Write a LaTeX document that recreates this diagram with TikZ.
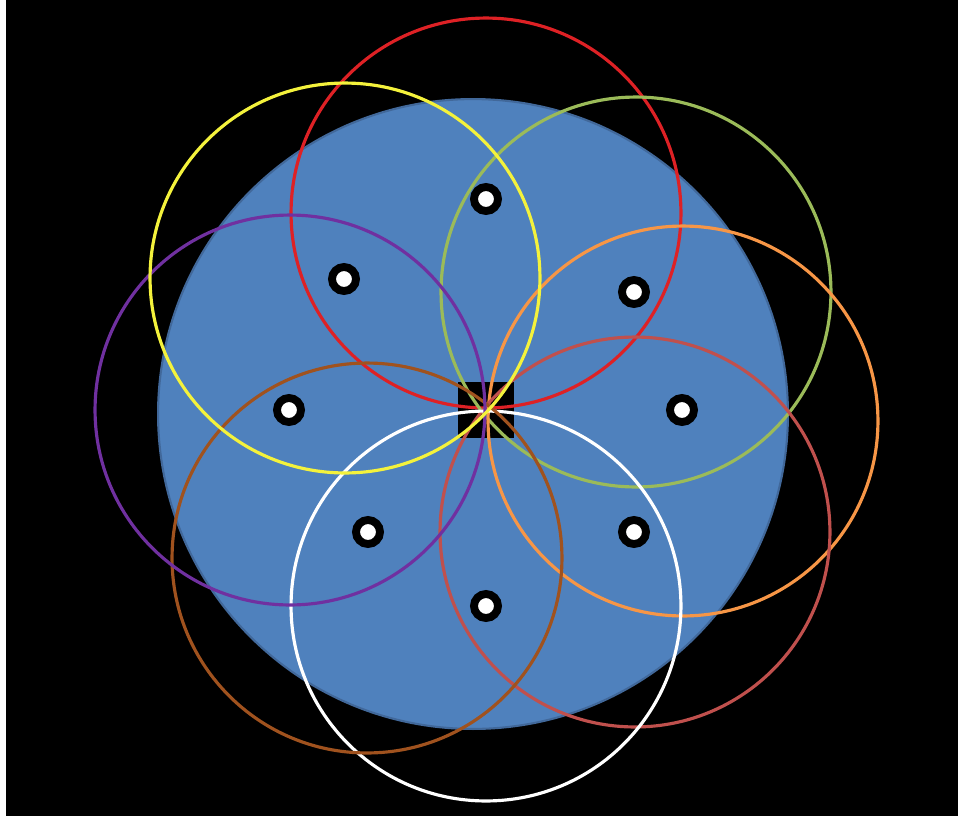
\documentclass[tikz,border=0pt]{standalone}
\usepackage{xcolor}
\usepackage{tikz}
\usetikzlibrary{positioning}

\definecolor{hubblue}{HTML}{4F81BD}
\definecolor{hubedge}{HTML}{41689A}
\definecolor{ringred}{HTML}{DE2125}
\definecolor{ringyellow}{HTML}{F4F23C}
\definecolor{ringgreen}{HTML}{9BBB59}
\definecolor{ringorange}{HTML}{F79646}
\definecolor{ringrose}{HTML}{C0504D}
\definecolor{ringbrown}{HTML}{A0521E}
\definecolor{ringpurple}{HTML}{7030A0}

\begin{document}
\begin{tikzpicture}[
    x=0.02cm, y=-0.02cm,
    ring/.style={draw=#1, circle, line width=1.8pt, minimum size=7.8cm, inner sep=0pt},
    sensor/.style={circle, fill=white, draw=black, line width=4.5pt, minimum size=0.48cm, inner sep=0pt},
    hub/.style={fill=black, minimum size=1.12cm, inner sep=0pt}
]
% Background
\fill[black] (0,0) rectangle (958,816);
\fill[white] (0,0) rectangle (6,816);
\useasboundingbox (0,0) rectangle (958,816);

% Coverage area
\node[circle, fill=hubblue, draw=hubedge, line width=1.2pt, minimum size=12.6cm, inner sep=0pt] (area) at (473,414) {};
\node[hub] (base) at (486,410) {};

% Sensing ranges
\node[ring=ringred] (r-red) at (486,213) {};
\node[ring=ringgreen] (r-green) at (636,292) {};
\node[ring=ringorange] (r-orange) at (683,421) {};
\node[ring=ringrose] (r-rose) at (635,532) {};
\node[ring=white] (r-white) at (486,606) {};
\node[ring=ringbrown] (r-brown) at (367,558) {};
\node[ring=ringpurple] (r-purple) at (290,410) {};
\node[ring=ringyellow] (r-yellow) at (345,278) {};

% Sensor nodes
\node[sensor] (s1) at (486,199) {};
\node[sensor] (s2) at (634,292) {};
\node[sensor] (s3) at (682,410) {};
\node[sensor] (s4) at (634,532) {};
\node[sensor] (s5) at (486,606) {};
\node[sensor] (s6) at (368,532) {};
\node[sensor] (s7) at (289,410) {};
\node[sensor] (s8) at (344,279) {};
\end{tikzpicture}
\end{document}
